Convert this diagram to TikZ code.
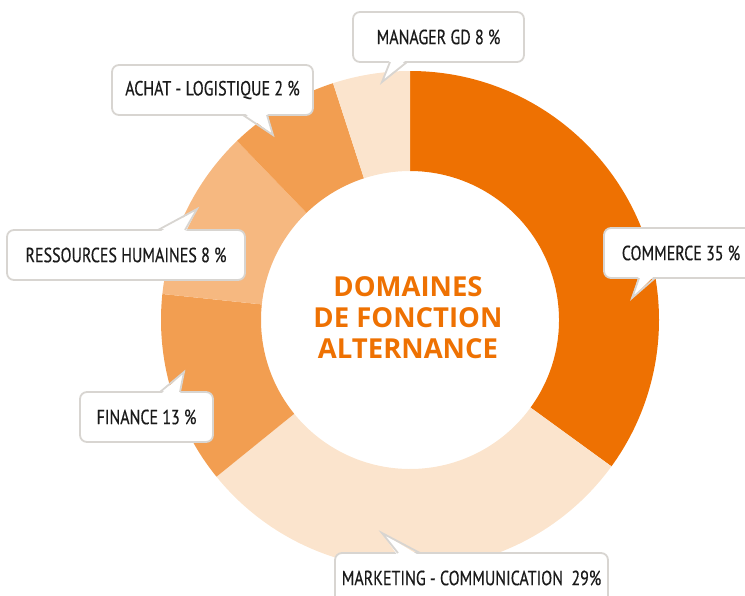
\documentclass[tikz,border=0pt]{standalone}
\usepackage{fontspec}
\setmainfont{PT Sans}
\newfontfamily\condfont[FakeStretch=0.78,FakeBold=0.4]{PT Sans}
\newfontfamily\titlefont{Open Sans}
\definecolor{orD}{HTML}{EE7102}
\definecolor{orM}{HTML}{F29E51}
\definecolor{orR}{HTML}{F6B880}
\definecolor{orL}{HTML}{FBE4CD}
\definecolor{bordergray}{HTML}{D8D5D1}
\definecolor{txt}{HTML}{1A1A1A}
\begin{document}
\begin{tikzpicture}[x=1pt,y=-1pt,
  callout/.style={draw=bordergray, line width=1.8pt, fill=white, rounded corners=7pt,
    inner sep=0pt, minimum height=50pt, text=txt,
    font=\condfont\fontsize{20.5}{20.5}\selectfont},
  tailline/.style={draw=bordergray, line width=1.8pt, line join=miter},
  tailfill/.style={fill=white, draw=none}]
\useasboundingbox (0,0) rectangle (745,595);
\clip (0,0) rectangle (745,595);
% ring
\begin{scope}[shift={(410,320)}, yscale=-1]
  \fill[orD] (-36:149) arc[start angle=-36,end angle=90,radius=149] -- (90:249) arc[start angle=90,end angle=-36,radius=249] -- cycle;
  \fill[orL] (-141:149) arc[start angle=-141,end angle=-36,radius=149] -- (-36:249) arc[start angle=-36,end angle=-141,radius=249] -- cycle;
  \fill[orM] (174:149) arc[start angle=174,end angle=219,radius=149] -- (219:249) arc[start angle=219,end angle=174,radius=249] -- cycle;
  \fill[orR] (134:149) arc[start angle=134,end angle=174,radius=149] -- (174:249) arc[start angle=174,end angle=134,radius=249] -- cycle;
  \fill[orM] (108:149) arc[start angle=108,end angle=134,radius=149] -- (134:249) arc[start angle=134,end angle=108,radius=249] -- cycle;
  \fill[orL] (90:149) arc[start angle=90,end angle=108,radius=149] -- (108:249) arc[start angle=108,end angle=90,radius=249] -- cycle;
\end{scope}
% title
\node[font=\titlefont\bfseries\fontsize{27.5}{31}\selectfont, text=orD, align=center] (title) at (408,318) {DOMAINES\\DE FONCTION\\ALTERNANCE};
% callouts
\node[callout, minimum width=171pt] (mgr) at (438.5,37) {MANAGER GD 8 \%};
\coordinate (mgrA) at (390,62); \coordinate (mgrB) at (407,62); \coordinate (mgrT) at (382,82);
\fill[tailfill] (390,59) -- (mgrT) -- (407,59) -- cycle;
\draw[tailline] (mgrA) -- (mgrT) -- (mgrB);

\node[callout, minimum width=201pt] (ach) at (212.5,90) {ACHAT - LOGISTIQUE 2 \%};
\coordinate (achA) at (243,115); \coordinate (achB) at (267,115); \coordinate (achT) at (273,135);
\fill[tailfill] (243,112) -- (achT) -- (267,112) -- cycle;
\draw[tailline] (achA) -- (achT) -- (achB);

\node[callout, minimum width=238pt] (rh) at (126,255) {RESSOURCES HUMAINES 8 \%};
\coordinate (rhA) at (158,230); \coordinate (rhB) at (185,230); \coordinate (rhT) at (197,209);
\fill[tailfill] (158,233) -- (rhT) -- (185,233) -- cycle;
\draw[tailline] (rhA) -- (rhT) -- (rhB);

\node[callout, minimum width=133pt] (fin) at (146.5,417) {FINANCE 13 \%};
\coordinate (finA) at (160,392); \coordinate (finB) at (180,392); \coordinate (finT) at (184,372);
\fill[tailfill] (160,395) -- (finT) -- (180,395) -- cycle;
\draw[tailline] (finA) -- (finT) -- (finB);

\node[callout, minimum width=154pt] (com) at (681,253) {COMMERCE 35 \%};
\coordinate (comA) at (639,278); \coordinate (comB) at (655,278); \coordinate (comT) at (632,298);
\fill[tailfill] (639,275) -- (comT) -- (655,275) -- cycle;
\draw[tailline] (comA) -- (comT) -- (comB);

\node[callout, minimum width=273pt] (mkt) at (471.5,578) {MARKETING - COMMUNICATION\ \ 29\%};
\coordinate (mktA) at (398,553); \coordinate (mktB) at (420,553); \coordinate (mktT) at (382,533);
\fill[tailfill] (398,556) -- (mktT) -- (420,556) -- cycle;
\draw[tailline] (mktA) -- (mktT) -- (mktB);
\end{tikzpicture}
\end{document}
